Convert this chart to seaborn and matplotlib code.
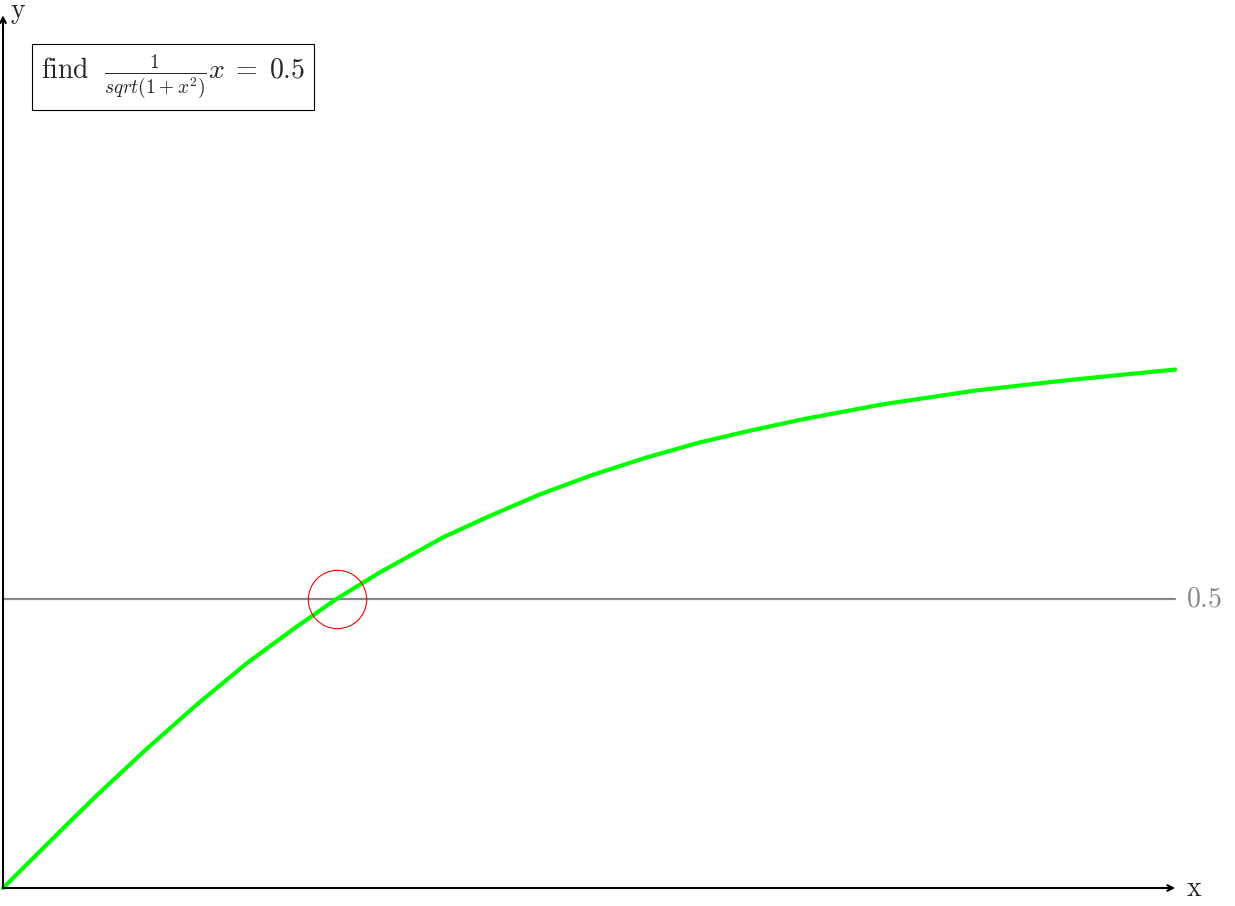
import numpy as np
import pandas as pd
import matplotlib
matplotlib.use("Agg")
import matplotlib.pyplot as plt
import seaborn as sns

# points
curve_x = [0.0, 0.110, 0.162, 0.249, 0.335, 0.422, 0.508, 0.577, 0.652, 0.762, 0.843,
           0.929, 1.021, 1.114, 1.206, 1.287, 1.379, 1.523, 1.685, 1.846, 2.028]
curve_y = [0.0, 0.109, 0.160, 0.241, 0.317, 0.389, 0.452, 0.500, 0.546, 0.607, 0.644,
           0.681, 0.715, 0.745, 0.771, 0.790, 0.810, 0.837, 0.861, 0.879, 0.897]
target = 0.5
root_x = 0.577
x_end = 2.028
y_end = 1.51

sns.set_style("white")
plt.rcParams["mathtext.fontset"] = "cm"
plt.rcParams["font.family"] = ["DejaVu Serif"]

fig = plt.figure(figsize=(12.35, 9.06), dpi=100)
ax = fig.add_axes([0, 0, 1, 1])
ax.set_xlim(-3 / 578, 1232 / 578)
ax.set_ylim(-18 / 578, 888 / 578)
ax.axis("off")

df = pd.DataFrame({"x": curve_x, "y": curve_y})

# target line
ax.plot([0, x_end], [target, target], color="#888888", lw=1.6, zorder=1)
ax.text(x_end + 0.019, target, r"$0.5$", color="#888888", fontsize=20,
        va="center", ha="left")

sns.lineplot(data=df, x="x", y="y", color="#00ff00", lw=3, ax=ax, zorder=2)

# intersection marker
ax.plot([root_x], [target], marker="o", ms=42, mfc="none", mec="red", mew=0.8, zorder=3)

# axes arrows
arrow = dict(arrowstyle="->", lw=1.5, color="black", shrinkA=0, shrinkB=0)
ax.annotate("", xy=(x_end, 0), xytext=(0, 0), arrowprops=arrow)
ax.annotate("", xy=(0, y_end), xytext=(0, 0), arrowprops=arrow)
ax.text(x_end + 0.018, 0, r"$\mathrm{x}$", fontsize=20, va="center", ha="left")
ax.text(0.012, y_end + 0.005, r"$\mathrm{y}$", fontsize=20, va="center", ha="left")

ax.text(41 / 1235, 1 - 77 / 906,
        r"$\mathrm{find}\ \ \frac{1}{sqrt(1+x^2)}x\;=\;0.5$",
        transform=ax.transAxes, fontsize=20, va="center", ha="left",
        bbox=dict(boxstyle="square,pad=0.32", fc="white", ec="black", lw=0.8))

fig.savefig("out.png", dpi=100)
